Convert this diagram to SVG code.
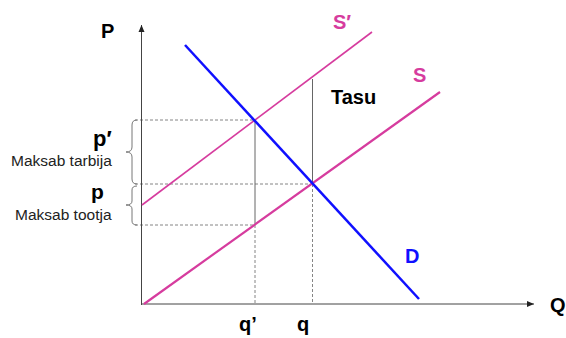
<svg xmlns="http://www.w3.org/2000/svg" width="566" height="338" viewBox="0 0 566 338">
<defs>
<marker id="arr" markerWidth="8" markerHeight="8" refX="7" refY="4" orient="auto" markerUnits="userSpaceOnUse">
<path d="M0,1 L7,4 L0,7 Z" fill="#222"/>
</marker>
<style>
.ax{stroke:#444;stroke-width:1;fill:none}
.dash{stroke:#666;stroke-width:0.8;stroke-dasharray:3,2;fill:none}
.solid{stroke:#666;stroke-width:1;fill:none}
.sup{stroke:#d63c9e;stroke-width:2.2;fill:none}
.sup2{stroke:#d63c9e;stroke-width:1.6;fill:none}
.dem{stroke:#1010ff;stroke-width:2.5;fill:none}
.brace{stroke:#777;stroke-width:1;fill:none}
.lbl{font-family:"Liberation Sans",Arial,sans-serif;font-weight:bold;font-size:20px;fill:#000}
.small{font-family:"Liberation Sans",Arial,sans-serif;font-size:15.5px;fill:#222}
.pink{fill:#d63c9e}
.blue{fill:#1010ff}
</style>
</defs>
<g id="connectors">
<line class="dash" x1="135" y1="120" x2="255" y2="120"/>
<line class="dash" x1="135" y1="184" x2="313" y2="184"/>
<line class="dash" x1="135" y1="225" x2="255" y2="225"/>
<line class="solid" x1="255" y1="120" x2="255" y2="225"/>
<line class="dash" x1="255" y1="225" x2="255" y2="304"/>
<line class="solid" x1="312.5" y1="79" x2="312.5" y2="184"/>
<line class="dash" x1="312.5" y1="184" x2="312.5" y2="304"/>
</g>
<g id="axes">
<line class="ax" x1="141.5" y1="305" x2="141.5" y2="25" marker-end="url(#arr)"/>
<line class="ax" x1="141.5" y1="304" x2="534" y2="304" marker-end="url(#arr)"/>
</g>
<g id="curve-S">
<line class="sup" x1="144" y1="304" x2="440" y2="92"/>
</g>
<g id="curve-S-prime">
<line class="sup2" x1="142" y1="205" x2="372" y2="32"/>
</g>
<g id="curve-D">
<line class="dem" x1="185" y1="45" x2="419" y2="299"/>
</g>
<g id="braces">
<path class="brace" d="M137,120 Q132,120 132,125 L132,147 Q132,152 126,152 Q132,152 132,157 L132,179 Q132,184 137,184"/>
<path class="brace" d="M137,186 Q132,186 132,190 L132,201 Q132,205 126,205 Q132,205 132,209 L132,221 Q132,225 137,225"/>
</g>
<g id="labels">
<text class="lbl" x="101" y="38">P</text>
<text class="lbl" x="550" y="312">Q</text>
<text class="lbl" x="239" y="331">q’</text>
<text class="lbl" x="297" y="331">q</text>
<text class="lbl pink" x="333" y="29">S′</text>
<text class="lbl pink" x="413" y="82">S</text>
<text class="lbl" x="331" y="104">Tasu</text>
<text class="lbl blue" x="405" y="263">D</text>
<text class="lbl" x="93" y="146" style="font-size:22px">p′</text>
<text class="small" x="11" y="166">Maksab tarbija</text>
<text class="lbl" x="91" y="199" style="font-size:21px">p</text>
<text class="small" x="15" y="220">Maksab tootja</text>
</g>
</svg>
